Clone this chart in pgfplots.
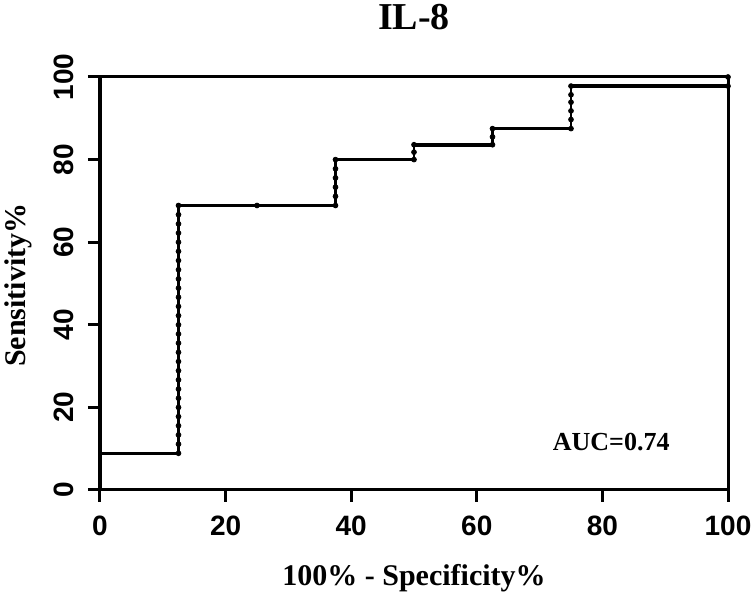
\documentclass[border=0pt]{standalone}
\usepackage{fontspec}
\setmainfont{Liberation Serif}
\newfontfamily\arialfont{Liberation Sans}
\usepackage{pgfplots}
\pgfplotsset{compat=1.18}
\begin{document}
\begin{tikzpicture}
\useasboundingbox (-50pt,-51.5pt) rectangle (327.5pt,245pt);
\begin{axis}[at={(0,0)}, anchor=south west, scale only axis,
  width=314pt, height=206.5pt,
  xmin=0, xmax=100, ymin=0, ymax=100, clip=false,
  xtick={0,20,40,60,80,100}, ytick={0,20,40,60,80,100},
  tick align=outside, xtick pos=bottom, ytick pos=left,
  major tick length=6pt,
  tick style={line width=1.5pt, black},
  axis line style={line width=1.5pt},
  /pgf/number format/assume math mode=true,
  ticklabel style={font=\arialfont\bfseries\fontsize{14}{14}\selectfont, inner xsep=1pt, inner ysep=7pt},
  yticklabel style={rotate=90, anchor=south},
  xlabel={100\% - Specificity\%},
  xlabel style={font=\bfseries\fontsize{15}{15}\selectfont, inner sep=0pt, at={(axis description cs:0.5,-0.213)}, anchor=center},
  ylabel={Sensitivity\%},
  ylabel style={font=\bfseries\fontsize{15}{15}\selectfont, inner sep=0pt, at={(axis description cs:-0.1306,0.496)}, anchor=center, rotate=0},
]
\addplot[line width=2.2pt, black] coordinates {(0,0) (0,100)};
\addplot[line width=1.3pt, black] coordinates {
(0,8.89)(12.5,8.89)(12.5,68.89)(37.5,68.89)(37.5,80)(50,80)(50,83.6)(62.5,83.6)(62.5,87.5)(75,87.5)(75,97.8)(100,97.8)(100,100)};
\addplot[line width=1.8pt, black] coordinates {(50,83.6)(62.5,83.6)(62.5,87.5)(75,87.5)};
\addplot[line width=1.8pt, black] coordinates {(75,97.8)(100,97.8)};
\addplot[only marks, mark=*, mark size=1.2pt, black] coordinates {
(12.5,8.89)(12.5,11.11)(12.5,13.33)(12.5,15.56)(12.5,17.78)(12.5,20)(12.5,22.22)(12.5,24.44)(12.5,26.67)(12.5,28.89)(12.5,31.11)(12.5,33.33)(12.5,35.56)(12.5,37.78)(12.5,40)(12.5,42.22)(12.5,44.44)(12.5,46.67)(12.5,48.89)(12.5,51.11)(12.5,53.33)(12.5,55.56)(12.5,57.78)(12.5,60)(12.5,62.22)(12.5,64.44)(12.5,66.67)(12.5,68.89)
(25,68.89)
(37.5,68.89)(37.5,71.11)(37.5,73.33)(37.5,75.56)(37.5,77.78)(37.5,80)
(50,80)(50,81.8)(50,83.6)
(62.5,83.6)(62.5,85.5)(62.5,87.5)
(75,87.5)(75,89.7)(75,91.8)(75,93.9)(75,95.7)(75,97.8)
(100,97.8)(100,100)};
\node[font=\bfseries\fontsize{13}{13}\selectfont] at (axis cs:81.4,11.7) {AUC=0.74};
\node[font=\bfseries\fontsize{19}{19}\selectfont, inner sep=0pt, anchor=base] at (axis description cs:0.5,1.1162) {IL-8};
\end{axis}
\end{tikzpicture}
\end{document}
